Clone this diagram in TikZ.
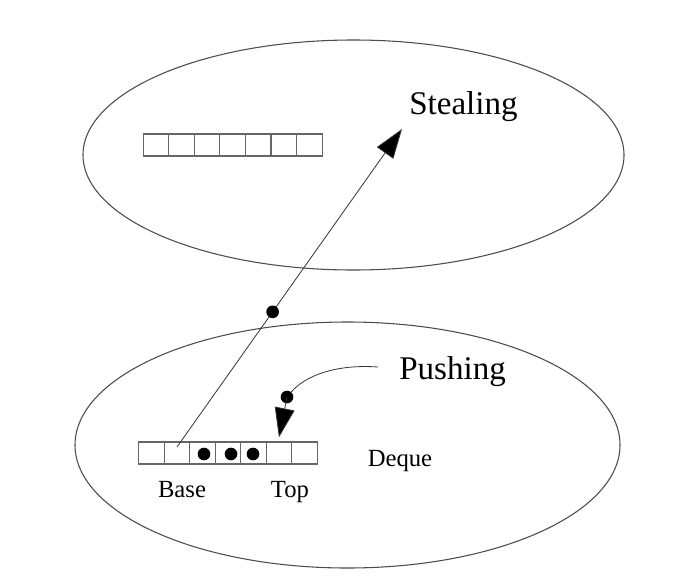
\documentclass[tikz,border=0pt]{standalone}
\usepackage{fontspec}
\setmainfont{Liberation Serif}
\usetikzlibrary{arrows.meta,calc}
\begin{document}
\begin{tikzpicture}[x=0.75pt,y=-0.75pt,
  region/.style={draw=black!70, line width=0.8pt},
  cell/.style={draw=black!60, line width=0.8pt, minimum width=19.1pt, minimum height=16.5pt, inner sep=0pt, outer sep=0pt},
  token/.style={circle, fill=black, minimum size=9.5pt, inner sep=0pt},
  bigarrow/.style={-{Triangle[length=22pt,width=15pt,fill=black]}, line width=0.6pt, draw=black!80},
  thinline/.style={line width=0.6pt, draw=black!80},
  biglabel/.style={font=\fontsize{24.8}{28}\selectfont, inner sep=0pt},
  smalllabel/.style={font=\fontsize{18.5}{20}\selectfont, inner sep=0pt}]
\useasboundingbox (0,0) rectangle (684,581);
% regions
\draw[region] (353.5,155) ellipse [x radius=270.5, y radius=115];
\draw[region] (347.5,445) ellipse [x radius=272.5, y radius=123];
% top array
\foreach \i in {1,...,7} {
  \node[cell] (t\i) at ({143+25.6*(\i-0.5)},145) {};
}
% bottom array (deque)
\foreach \i in {1,...,7} {
  \node[cell] (b\i) at ({138.7+25.5*(\i-0.5)},453) {};
}
\node[token] (d1) at (204,454) {};
\node[token] (d2) at (231,454) {};
\node[token] (d3) at (253,454) {};
% labels
\node[biglabel, anchor=west] (steal) at (409,107) {Stealing};
\node[biglabel, anchor=west] (push) at (399,372) {Pushing};
\node[smalllabel] (base) at (182,490) {Base};
\node[smalllabel] (top) at (290,492) {Top};
\node[smalllabel] (deque) at (400,461) {Deque};
% stealing arrow
\coordinate (s) at (177,447);
\coordinate (stip) at (402,129);
\draw[bigarrow] (s) -- (stip);
\node[token] (m) at ($(s)!0.425!(stip)$) {};
% pushing arrow
\coordinate (pstart) at (378,367);
\node[token] (p) at (287,397) {};
\draw[thinline] (pstart) .. controls (335,364) and (305,376) .. (p);
\draw[bigarrow] (p.center) -- ([yshift=3.5pt]b6.north);
\end{tikzpicture}
\end{document}
